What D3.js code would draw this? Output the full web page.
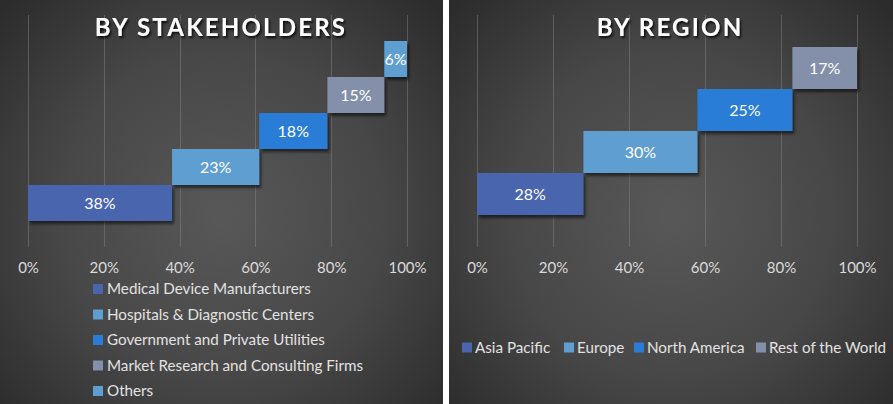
<!DOCTYPE html>
<html>
<head>
<meta charset="utf-8">
<script src="https://cdn.jsdelivr.net/npm/d3@7"></script>
<style>
  html, body { margin: 0; padding: 0; background: #ffffff; }
  svg { display: block; }
  text { font-family: Lato, "Open Sans", sans-serif; }
</style>
</head>
<body>
<svg id="chart" width="893" height="404"></svg>
<script>
// ---- data ----
const stakeholderCategories = ["Medical Device Manufacturers", "Hospitals & Diagnostic Centers", "Government and Private Utilities", "Market Research and Consulting Firms", "Others"];
const stakeholderValues = [38, 23, 18, 15, 6];
const stakeholderColors = ["#4a65ae", "#5f9ed1", "#2a7dd6", "#8490a9", "#5f9ed1"];

const regionCategories = ["Asia Pacific", "Europe", "North America", "Rest of the World"];
const regionValues = [28, 30, 25, 17];
const regionColors = ["#4a65ae", "#5f9ed1", "#2a7dd6", "#8490a9"];

const tickValues = [0, 20, 40, 60, 80, 100];
const tickLabels = ["0%", "20%", "40%", "60%", "80%", "100%"];

const titles = ["BY STAKEHOLDERS", "BY REGION"];

// ---- drawing ----
const svg = d3.select("#chart");
const defs = svg.append("defs");

const shadow = defs.append("filter").attr("id", "barShadow")
  .attr("x", "-20%").attr("y", "-20%").attr("width", "150%").attr("height", "160%");
shadow.append("feDropShadow").attr("dx", 2).attr("dy", 3).attr("stdDeviation", 1.6)
  .attr("flood-color", "#000").attr("flood-opacity", 0.55);

const tshadow = defs.append("filter").attr("id", "titleShadow")
  .attr("x", "-10%").attr("y", "-30%").attr("width", "120%").attr("height", "170%");
tshadow.append("feDropShadow").attr("dx", 1.5).attr("dy", 2).attr("stdDeviation", 1.2)
  .attr("flood-color", "#000").attr("flood-opacity", 0.8);

svg.append("rect").attr("width", 893).attr("height", 404).attr("fill", "#ffffff");

function panel(opts) {
  const g = svg.append("g");
  const grad = defs.append("radialGradient").attr("id", opts.id + "Bg")
    .attr("gradientUnits", "userSpaceOnUse")
    .attr("cx", opts.px + opts.pw / 2).attr("cy", 215).attr("r", 300);
  grad.append("stop").attr("offset", "0%").attr("stop-color", "#585858");
  grad.append("stop").attr("offset", "55%").attr("stop-color", "#474747");
  grad.append("stop").attr("offset", "100%").attr("stop-color", "#2c2c2c");
  g.append("rect").attr("x", opts.px).attr("y", 0).attr("width", opts.pw).attr("height", 404)
    .attr("fill", `url(#${opts.id}Bg)`);

  const x = d3.scaleLinear().domain([0, 100]).range(opts.xRange);
  const y = d3.scaleBand().domain(opts.categories.map((d, i) => i).reverse())
    .range([15, 247]).paddingInner(0).paddingOuter(opts.padOuter);

  // gridlines
  g.append("g").selectAll("line").data(tickValues).join("line")
    .attr("x1", d => Math.round(x(d)) + 0.5).attr("x2", d => Math.round(x(d)) + 0.5)
    .attr("y1", 15).attr("y2", 247)
    .attr("stroke", "#8a8a8a").attr("stroke-opacity", 0.45).attr("stroke-width", 1);

  // axis tick labels
  const axis = d3.axisBottom(x).tickValues(tickValues)
    .tickFormat((d, i) => tickLabels[i]).tickSize(0).tickPadding(0);
  const ag = g.append("g").attr("transform", "translate(0,262)").call(axis);
  ag.select(".domain").remove();
  ag.selectAll("text").attr("fill", "#dadada").attr("font-size", 15)
    .attr("font-family", "Lato, sans-serif");

  // bars (waterfall)
  const bases = [];
  let acc = 0;
  opts.values.forEach(v => { bases.push(acc); acc += v; });
  const bars = g.append("g").selectAll("g").data(opts.values).join("g");
  bars.append("rect")
    .attr("x", (d, i) => x(bases[i]))
    .attr("y", (d, i) => y(i))
    .attr("width", (d, i) => x(bases[i] + d) - x(bases[i]))
    .attr("height", y.bandwidth())
    .attr("fill", (d, i) => opts.colors[i])
    .attr("filter", "url(#barShadow)");
  bars.append("text")
    .attr("x", (d, i) => (x(bases[i]) + x(bases[i] + d)) / 2)
    .attr("y", (d, i) => y(i) + y.bandwidth() / 2)
    .attr("dy", "0.36em").attr("text-anchor", "middle")
    .attr("fill", "#ffffff").attr("font-size", 16)
    .text(d => d + "%");

  // title
  g.append("text").attr("x", opts.titleX).attr("y", 36).attr("text-anchor", "middle")
    .attr("fill", "#ffffff").attr("font-size", 24).attr("font-weight", 700)
    .attr("font-family", "'Open Sans', sans-serif")
    .attr("letter-spacing", 2.2)
    .attr("filter", "url(#titleShadow)")
    .text(opts.title);

  return g;
}

const left = panel({
  id: "left", px: 0, pw: 443, xRange: [28, 407],
  categories: stakeholderCategories, values: stakeholderValues, colors: stakeholderColors,
  padOuter: 26 / 36, title: titles[0], titleX: 221
});
const right = panel({
  id: "right", px: 449, pw: 444, xRange: [477, 857],
  categories: regionCategories, values: regionValues, colors: regionColors,
  padOuter: 32 / 42, title: titles[1], titleX: 670
});

// left legend (vertical)
const ly = [289, 314.5, 340, 365.5, 391];
const lleg = left.append("g").selectAll("g").data(stakeholderCategories).join("g")
  .attr("transform", (d, i) => `translate(93,${ly[i]})`);
lleg.append("rect").attr("x", 0).attr("y", -5).attr("width", 10).attr("height", 10)
  .attr("fill", (d, i) => stakeholderColors[i]);
lleg.append("text").attr("x", 14).attr("dy", "0.36em").attr("fill", "#e2e2e2")
  .attr("font-size", 15.2).text(d => d);

// right legend (horizontal)
const rx = [462, 564, 634, 756];
const rleg = right.append("g").selectAll("g").data(regionCategories).join("g")
  .attr("transform", (d, i) => `translate(${rx[i]},347.5)`);
rleg.append("rect").attr("x", 0).attr("y", -5).attr("width", 10).attr("height", 10)
  .attr("fill", (d, i) => regionColors[i]);
rleg.append("text").attr("x", 13).attr("dy", "0.36em").attr("fill", "#e2e2e2")
  .attr("font-size", 15.2).text(d => d);
</script>
</body>
</html>
